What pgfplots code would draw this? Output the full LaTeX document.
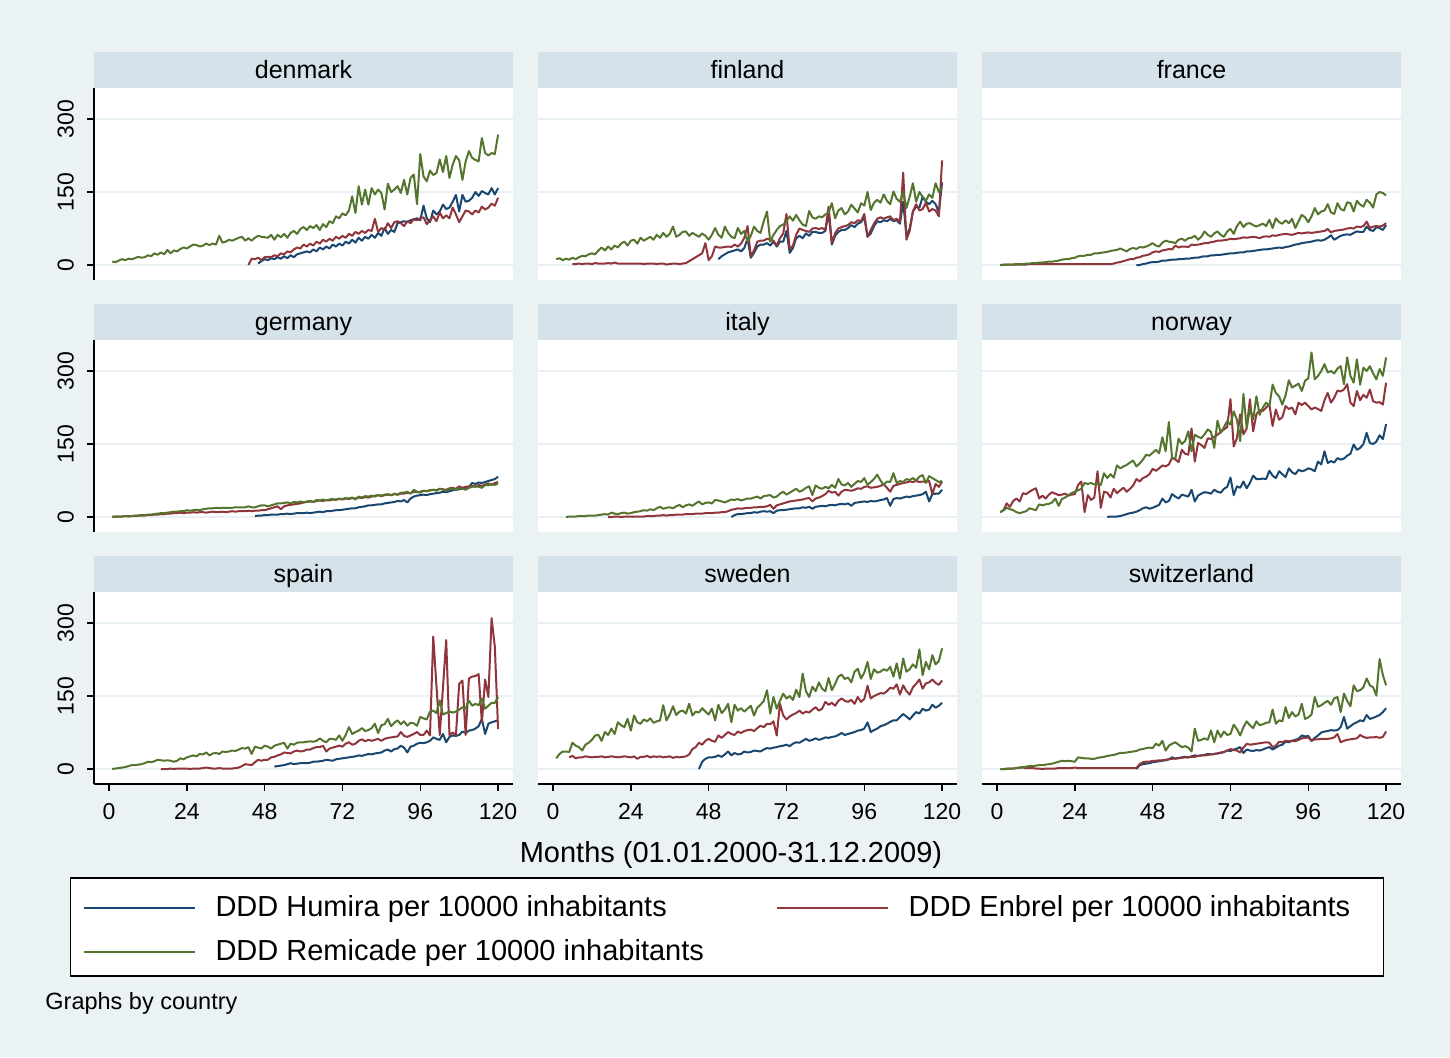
\documentclass[border=0pt]{standalone}
\usepackage{fontspec}
\setmainfont{Liberation Sans}
\usepackage{pgfplots}
\pgfplotsset{compat=1.18}
\definecolor{bgcol}{RGB}{234,242,243}
\definecolor{stripcol}{RGB}{214,226,233}
\definecolor{gridcol}{RGB}{232,240,243}
\definecolor{hum}{RGB}{26,71,111}
\definecolor{enb}{RGB}{144,53,59}
\definecolor{rem}{RGB}{85,117,47}
\newcommand{\ser}[3]{\addplot[#1] table[row sep=\\, header=false, x expr=\coordindex+#2, y index=0]{#3\\};}
\pgfplotsset{
 every axis title shift=0pt,
 panel/.style={
  scale only axis, width=209.5pt, height=96pt,
  xmin=-4.63, xmax=124.6, ymin=-30.8, ymax=363.7,
  axis background/.style={fill=white},
  axis x line*=bottom, axis y line*=left,
  axis line style={-, black, line width=0.75pt},
  ytick={0,150,300}, xtick={0,24,...,120},
  ymajorgrids, major grid style={gridcol, line width=1pt},
  tick align=outside, major tick length=3.5pt,
  tick style={black, line width=0.75pt},
  /pgf/number format/assume math mode=true,
  tick label style={font=\fontsize{11.5}{13}\selectfont},
  yticklabel style={rotate=90, anchor=south, yshift=3pt},
  xticklabel style={yshift=-2.5pt},
  title style={at={(0.5,1)}, anchor=south, yshift=0pt, fill=stripcol, minimum width=209.5pt, minimum height=18pt, inner sep=0pt, text height=9.2pt, text depth=0pt, font=\fontsize{12.5}{14}\selectfont},
  every axis plot/.append style={line width=1pt, line join=round},
 },
 noy/.style={y axis line style={draw=none}, ytick style={draw=none}, yticklabels={}},
 nox/.style={x axis line style={draw=none}, xtick style={draw=none}, xticklabels={}},
}
\begin{document}
\begin{tikzpicture}
\useasboundingbox[fill=bgcol] (0,0) rectangle (725pt,-528.5pt);
% ---------------- denmark
\begin{axis}[panel, nox, at={(47pt,-44pt)}, anchor=north west, title={denmark}]
\ser{hum}{46}{3\\8\\12\\10\\14\\12\\16\\13\\18\\14\\20\\16\\22\\24\\26\\28\\26\\32\\28\\36\\32\\38\\34\\42\\38\\44\\40\\48\\44\\52\\46\\56\\50\\58\\54\\62\\56\\66\\60\\76\\64\\72\\68\\86\\88\\90\\88\\92\\94\\96\\92\\122\\96\\88\\112\\104\\110\\124\\115\\118\\130\\144\\110\\144\\130\\132\\138\\150\\142\\152\\148\\145\\158\\145\\158}
\ser{enb}{43}{0\\13\\12\\15\\10\\16\\17\\16\\20\\18\\24\\22\\28\\26\\32\\36\\34\\42\\38\\44\\40\\48\\44\\52\\48\\54\\50\\58\\54\\60\\56\\64\\60\\68\\64\\70\\66\\72\\70\\95\\68\\76\\72\\86\\76\\88\\90\\86\\80\\90\\86\\94\\92\\96\\98\\84\\92\\100\\90\\108\\96\\102\\96\\118\\104\\88\\100\\112\\110\\104\\112\\108\\120\\114\\118\\126\\122\\138}
\ser{rem}{1}{7\\6\\9\\12\\10\\13\\12\\14\\17\\15\\16\\20\\18\\24\\21\\26\\22\\31\\24\\30\\28\\33\\36\\34\\38\\42\\41\\38\\40\\44\\41\\44\\42\\60\\46\\48\\52\\50\\53\\56\\58\\50\\55\\50\\56\\60\\58\\57\\56\\62\\52\\62\\57\\64\\56\\66\\70\\64\\74\\78\\72\\80\\76\\82\\72\\84\\78\\90\\86\\100\\96\\106\\102\\112\\141\\107\\162\\124\\155\\124\\158\\145\\155\\148\\114\\167\\150\\155\\162\\148\\175\\145\\179\\186\\125\\228\\182\\172\\194\\185\\189\\217\\191\\224\\179\\206\\224\\215\\175\\213\\234\\220\\216\\213\\261\\230\\225\\230\\228\\268}
\end{axis}
% ---------------- finland
\begin{axis}[panel, nox, noy, at={(269pt,-44pt)}, anchor=north west, title={finland}]
\ser{hum}{51}{12\\18\\22\\26\\28\\30\\32\\28\\35\\55\\15\\25\\38\\42\\42\\45\\40\\48\\38\\48\\48\\70\\25\\35\\55\\60\\55\\65\\60\\68\\68\\66\\66\\70\\108\\42\\60\\68\\72\\72\\76\\82\\78\\85\\88\\98\\58\\65\\80\\90\\88\\92\\90\\95\\90\\92\\85\\130\\60\\75\\110\\120\\118\\140\\130\\125\\132\\125\\108\\170}
\ser{enb}{6}{2\\2\\3\\2\\3\\3\\2\\4\\3\\3\\3\\4\\3\\5\\3\\3\\3\\3\\3\\3\\3\\3\\2\\3\\3\\3\\2\\3\\3\\1\\2\\3\\3\\2\\3\\4\\8\\12\\16\\20\\24\\45\\10\\18\\38\\36\\36\\37\\38\\37\\42\\38\\44\\56\\80\\18\\30\\48\\50\\50\\54\\52\\50\\40\\55\\65\\105\\32\\40\\62\\75\\72\\70\\68\\75\\76\\74\\76\\72\\120\\45\\65\\75\\78\\80\\82\\88\\86\\92\\90\\105\\58\\72\\85\\95\\98\\95\\98\\100\\92\\95\\88\\190\\52\\70\\110\\125\\112\\115\\128\\110\\115\\112\\100\\215}
\ser{rem}{1}{12\\14\\10\\13\\11\\15\\12\\16\\19\\18\\22\\24\\22\\30\\36\\30\\38\\32\\40\\36\\44\\48\\40\\50\\52\\44\\56\\50\\54\\58\\52\\62\\56\\66\\58\\64\\79\\58\\62\\68\\69\\60\\66\\62\\58\\65\\60\\52\\62\\76\\62\\56\\79\\66\\58\\55\\76\\64\\70\\48\\60\\79\\70\\66\\90\\110\\48\\62\\72\\80\\83\\90\\100\\91\\103\\92\\83\\80\\111\\98\\95\\100\\98\\104\\108\\127\\96\\112\\117\\104\\110\\124\\116\\108\\127\\122\\150\\113\\128\\134\\128\\145\\132\\125\\151\\136\\130\\151\\117\\140\\168\\130\\150\\140\\132\\145\\138\\168\\150\\158}
\end{axis}
% ---------------- france
\begin{axis}[panel, nox, noy, at={(491pt,-44pt)}, anchor=north west, title={france}]
\ser{hum}{43}{0\\0\\2\\3\\5\\6\\6\\7\\9\\9\\10\\11\\11\\12\\12\\13\\13\\14\\15\\15\\17\\18\\18\\20\\20\\21\\21\\22\\23\\24\\24\\25\\26\\26\\28\\28\\29\\30\\31\\32\\32\\33\\34\\35\\36\\35\\37\\38\\40\\42\\43\\45\\46\\47\\48\\50\\51\\50\\52\\56\\61\\52\\56\\60\\62\\63\\62\\66\\69\\68\\68\\79\\72\\70\\78\\76\\72\\82}
\ser{enb}{1}{0\\1\\1\\1\\1\\1\\1\\1\\1\\2\\2\\2\\2\\2\\2\\2\\2\\2\\2\\2\\2\\2\\2\\2\\2\\2\\2\\2\\2\\2\\2\\2\\2\\2\\2\\3\\5\\6\\8\\10\\12\\12\\15\\16\\19\\20\\22\\26\\28\\27\\30\\31\\33\\32\\40\\36\\38\\38\\37\\42\\41\\42\\43\\45\\45\\47\\48\\50\\50\\51\\52\\54\\53\\54\\55\\57\\56\\57\\58\\57\\55\\58\\59\\58\\61\\60\\62\\63\\64\\63\\62\\64\\66\\65\\66\\67\\66\\67\\68\\69\\70\\74\\67\\70\\71\\72\\73\\75\\76\\75\\79\\78\\80\\89\\76\\79\\80\\79\\81\\86}
\ser{rem}{1}{0\\0\\1\\1\\1\\2\\2\\2\\3\\3\\4\\4\\5\\5\\6\\7\\7\\8\\9\\11\\12\\12\\14\\15\\18\\19\\19\\21\\21\\24\\24\\25\\26\\27\\29\\30\\31\\34\\31\\28\\33\\35\\33\\37\\36\\38\\41\\45\\40\\38\\46\\50\\48\\47\\45\\52\\54\\50\\55\\56\\60\\52\\58\\69\\62\\58\\65\\69\\62\\58\\69\\74\\64\\80\\89\\78\\85\\86\\82\\79\\82\\85\\80\\93\\76\\96\\88\\85\\92\\86\\95\\76\\90\\103\\98\\88\\100\\117\\104\\110\\112\\125\\108\\105\\127\\115\\112\\129\\127\\110\\132\\124\\120\\134\\128\\118\\145\\150\\148\\143}
\end{axis}
% ---------------- germany
\begin{axis}[panel, nox, at={(47pt,-170pt)}, anchor=north west, title={germany}]
\ser{hum}{45}{2\\3\\3\\4\\4\\5\\5\\5\\6\\6\\7\\6\\7\\8\\8\\8\\9\\8\\9\\10\\11\\10\\12\\12\\13\\14\\14\\15\\16\\17\\18\\18\\20\\21\\22\\24\\24\\25\\26\\26\\28\\29\\30\\31\\33\\32\\35\\30\\38\\42\\44\\45\\46\\45\\47\\48\\49\\50\\52\\51\\53\\55\\56\\57\\58\\60\\62\\70\\68\\71\\70\\72\\74\\76\\78\\83}
\ser{enb}{1}{0\\1\\1\\1\\2\\1\\2\\2\\3\\3\\3\\4\\4\\5\\5\\6\\6\\7\\7\\8\\8\\9\\8\\9\\9\\10\\9\\10\\10\\9\\10\\11\\10\\10\\11\\10\\11\\12\\11\\12\\12\\12\\13\\12\\13\\13\\14\\14\\16\\18\\20\\22\\16\\22\\24\\25\\26\\27\\28\\30\\31\\32\\31\\33\\34\\33\\35\\34\\36\\36\\37\\36\\38\\37\\39\\38\\40\\39\\41\\40\\42\\44\\45\\43\\45\\46\\45\\47\\46\\48\\48\\50\\49\\52\\51\\52\\54\\53\\55\\56\\55\\58\\57\\56\\59\\60\\58\\63\\60\\62\\63\\64\\62\\66\\64\\67\\69\\66\\70\\72}
\ser{rem}{1}{1\\1\\1\\1\\2\\2\\2\\3\\3\\4\\4\\5\\5\\6\\7\\8\\8\\9\\10\\11\\11\\12\\12\\14\\13\\14\\15\\14\\16\\17\\18\\18\\19\\18\\19\\19\\19\\19\\20\\20\\20\\20\\22\\20\\20\\22\\24\\24\\22\\24\\26\\28\\28\\29\\30\\28\\31\\30\\32\\30\\32\\33\\31\\35\\34\\36\\34\\36\\37\\35\\38\\37\\39\\38\\40\\36\\42\\40\\43\\42\\44\\42\\45\\44\\46\\47\\45\\48\\46\\50\\50\\52\\48\\56\\52\\50\\54\\53\\55\\56\\54\\58\\56\\54\\57\\59\\55\\60\\58\\56\\60\\62\\64\\62\\60\\66\\65\\68\\66\\69}
\end{axis}
% ---------------- italy
\begin{axis}[panel, nox, noy, at={(269pt,-170pt)}, anchor=north west, title={italy}]
\ser{hum}{55}{0\\4\\6\\6\\7\\8\\8\\10\\9\\11\\12\\11\\12\\8\\13\\14\\14\\15\\16\\17\\18\\18\\20\\19\\21\\17\\21\\22\\23\\22\\24\\25\\24\\26\\27\\26\\28\\23\\29\\30\\31\\32\\31\\33\\32\\33\\35\\36\\39\\23\\37\\39\\38\\40\\42\\41\\43\\44\\45\\47\\52\\32\\47\\48\\48\\56}
\ser{enb}{17}{0\\0\\1\\1\\0\\1\\1\\1\\1\\1\\1\\1\\2\\2\\2\\3\\3\\4\\3\\4\\4\\5\\5\\5\\6\\6\\6\\7\\7\\7\\8\\8\\8\\9\\9\\10\\10\\12\\15\\16\\18\\17\\18\\19\\19\\20\\20\\21\\21\\22\\25\\17\\24\\26\\28\\30\\32\\33\\34\\35\\36\\38\\39\\32\\38\\40\\43\\47\\54\\50\\52\\44\\52\\56\\55\\54\\56\\59\\58\\62\\63\\60\\61\\62\\64\\67\\60\\52\\64\\66\\68\\70\\71\\73\\72\\74\\72\\73\\72\\74\\47\\68\\62\\73}
\ser{rem}{4}{0\\1\\1\\1\\2\\2\\2\\3\\3\\3\\4\\5\\6\\5\\9\\7\\6\\8\\9\\7\\8\\10\\11\\12\\14\\13\\16\\14\\18\\21\\17\\19\\20\\18\\22\\25\\20\\24\\26\\23\\28\\32\\26\\29\\30\\28\\35\\34\\32\\30\\33\\36\\35\\37\\34\\36\\38\\38\\40\\42\\38\\43\\44\\45\\40\\42\\48\\52\\46\\50\\54\\58\\52\\55\\60\\63\\45\\65\\60\\58\\62\\59\\66\\60\\78\\67\\65\\70\\62\\68\\74\\72\\80\\66\\72\\78\\87\\75\\66\\73\\72\\90\\70\\74\\72\\78\\76\\80\\75\\83\\86\\70\\84\\80\\76\\72\\74}
\end{axis}
% ---------------- norway
\begin{axis}[panel, nox, noy, at={(491pt,-170pt)}, anchor=north west, title={norway}]
\ser{hum}{34}{0\\1\\1\\1\\2\\4\\6\\8\\9\\11\\14\\18\\20\\17\\19\\22\\25\\38\\30\\33\\47\\42\\38\\46\\44\\42\\56\\32\\44\\48\\51\\50\\48\\56\\52\\50\\58\\62\\81\\45\\63\\60\\73\\59\\70\\85\\78\\78\\79\\78\\95\\85\\80\\94\\88\\82\\100\\92\\88\\97\\94\\96\\100\\98\\94\\114\\108\\135\\111\\115\\112\\121\\118\\120\\126\\130\\149\\138\\142\\150\\173\\152\\150\\155\\168\\160\\191}
\ser{enb}{1}{10\\14\\28\\21\\33\\38\\32\\49\\47\\52\\56\\59\\38\\44\\38\\46\\51\\48\\45\\46\\48\\44\\46\\47\\66\\73\\10\\45\\35\\40\\94\\19\\52\\50\\40\\58\\49\\55\\60\\52\\58\\65\\78\\73\\80\\83\\88\\99\\95\\100\\106\\104\\108\\122\\118\\113\\138\\130\\128\\182\\114\\152\\148\\142\\162\\160\\165\\169\\175\\180\\185\\242\\145\\162\\211\\170\\182\\242\\176\\211\\220\\218\\225\\231\\187\\221\\200\\205\\228\\222\\225\\211\\235\\230\\235\\228\\221\\225\\222\\218\\240\\255\\235\\245\\260\\258\\262\\273\\235\\228\\259\\240\\251\\245\\262\\238\\235\\236\\231\\276}
\ser{rem}{1}{10\\14\\19\\16\\14\\10\\8\\10\\12\\18\\16\\14\\26\\24\\26\\27\\30\\38\\23\\37\\40\\45\\49\\52\\55\\58\\70\\68\\70\\67\\68\\66\\90\\80\\88\\81\\106\\100\\104\\107\\112\\116\\104\\110\\118\\128\\126\\132\\138\\131\\164\\135\\195\\121\\120\\161\\150\\156\\176\\135\\169\\165\\162\\170\\180\\175\\142\\198\\173\\185\\197\\190\\217\\200\\156\\253\\183\\224\\200\\248\\210\\225\\235\\228\\272\\255\\248\\231\\250\\281\\266\\270\\274\\259\\280\\285\\338\\283\\290\\300\\314\\297\\300\\295\\305\\310\\273\\328\\290\\276\\324\\272\\307\\300\\310\\295\\283\\304\\290\\328}
\end{axis}
% ---------------- spain
\begin{axis}[panel, at={(47pt,-296pt)}, anchor=north west, title={spain},
  legend columns=2, legend cell align=left,
  legend image code/.code={\draw[#1] (0pt,-1.5pt) -- (55.5pt,-1.5pt);},
  legend style={at={(-0.0573,-0.4844)}, anchor=north west, draw=black, line width=0.75pt, fill=white,
    inner xsep=6pt, inner ysep=5.5pt, row sep=6pt,
    font=\fontsize{14.5}{17}\selectfont,
    nodes={inner sep=0pt, text height=14pt, text depth=2pt},
    /tikz/column 1/.style={column sep=9.9pt},
    /tikz/column 2/.style={column sep=35.9pt},
    /tikz/column 3/.style={column sep=9.9pt}}]
\ser{hum}{51}{5\\6\\7\\8\\10\\12\\10\\11\\12\\12\\12\\13\\15\\15\\16\\17\\19\\18\\17\\20\\21\\22\\23\\24\\25\\26\\28\\27\\29\\31\\30\\32\\33\\34\\38\\40\\36\\41\\42\\48\\44\\34\\46\\48\\52\\54\\53\\55\\58\\65\\62\\60\\72\\55\\66\\69\\68\\70\\77\\74\\79\\80\\83\\88\\103\\72\\93\\96\\98\\100}
\addlegendentry{DDD Humira per 10000 inhabitants}
\ser{enb}{16}{0\\0\\0\\1\\0\\1\\1\\1\\1\\0\\1\\1\\1\\2\\3\\2\\1\\1\\2\\1\\1\\1\\1\\2\\3\\6\\10\\9\\8\\14\\19\\17\\19\\19\\24\\25\\28\\30\\34\\33\\32\\36\\38\\36\\37\\40\\40\\43\\45\\45\\48\\36\\42\\44\\46\\48\\46\\52\\55\\50\\52\\58\\61\\57\\60\\58\\60\\62\\58\\62\\64\\65\\66\\67\\76\\68\\66\\69\\72\\76\\70\\70\\79\\69\\272\\170\\70\\168\\265\\70\\75\\70\\175\\182\\70\\186\\190\\191\\195\\96\\184\\148\\310\\251\\82}
\addlegendentry{DDD Enbrel per 10000 inhabitants\rule{10.5pt}{0pt}}
\ser{rem}{1}{0\\1\\2\\3\\4\\6\\8\\8\\9\\10\\12\\15\\14\\16\\19\\18\\17\\18\\17\\15\\17\\22\\20\\24\\26\\28\\26\\31\\30\\34\\28\\32\\33\\31\\36\\35\\36\\38\\37\\40\\43\\42\\45\\31\\46\\44\\42\\48\\46\\42\\48\\50\\52\\54\\42\\52\\50\\54\\55\\55\\56\\57\\56\\58\\63\\58\\55\\62\\62\\60\\69\\58\\70\\86\\72\\76\\79\\84\\78\\80\\84\\93\\74\\90\\92\\103\\88\\95\\100\\92\\98\\89\\95\\94\\89\\107\\104\\102\\118\\120\\115\\141\\112\\115\\118\\116\\118\\122\\127\\124\\141\\130\\134\\131\\145\\124\\130\\136\\136\\148}
\addlegendentry{DDD Remicade per 10000 inhabitants}
\end{axis}
% ---------------- sweden
\begin{axis}[panel, noy, at={(269pt,-296pt)}, anchor=north west, title={sweden},
  xlabel={Months (01.01.2000-31.12.2009)},
  xlabel style={at={(0.5,-0.354)}, anchor=center, xshift=-8.25pt, yshift=-1.5pt, font=\fontsize{14.5}{17}\selectfont}]
\ser{hum}{45}{0\\15\\21\\24\\24\\25\\28\\25\\30\\36\\28\\33\\30\\31\\36\\34\\35\\38\\37\\36\\40\\43\\42\\44\\45\\47\\48\\50\\47\\52\\55\\54\\58\\62\\58\\60\\63\\60\\62\\65\\64\\66\\67\\70\\74\\70\\72\\74\\76\\79\\80\\83\\96\\76\\80\\83\\88\\90\\93\\97\\100\\100\\107\\113\\108\\102\\110\\117\\114\\124\\120\\122\\132\\126\\130\\136}
\ser{enb}{5}{24\\27\\22\\24\\24\\26\\25\\24\\25\\25\\26\\24\\25\\26\\25\\24\\25\\26\\25\\24\\26\\21\\25\\25\\27\\24\\26\\25\\26\\24\\25\\26\\23\\25\\24\\25\\26\\30\\41\\45\\54\\50\\58\\62\\58\\56\\69\\64\\70\\76\\72\\70\\77\\74\\78\\80\\81\\78\\84\\89\\86\\93\\92\\98\\69\\134\\110\\102\\108\\112\\115\\120\\114\\118\\116\\122\\127\\120\\124\\138\\132\\136\\130\\140\\145\\140\\138\\142\\134\\148\\138\\144\\171\\145\\150\\153\\156\\155\\160\\167\\165\\174\\153\\172\\160\\153\\168\\175\\184\\165\\176\\178\\184\\177\\173\\182}
\ser{rem}{1}{22\\31\\36\\36\\35\\54\\48\\45\\38\\50\\54\\60\\69\\70\\58\\76\\70\\83\\72\\96\\90\\86\\103\\79\\110\\96\\93\\102\\98\\104\\95\\98\\100\\131\\100\\112\\129\\111\\118\\120\\114\\134\\110\\118\\116\\125\\118\\112\\124\\100\\132\\115\\122\\134\\96\\132\\120\\125\\118\\124\\130\\110\\126\\132\\140\\162\\114\\148\\124\\140\\155\\145\\150\\142\\163\\148\\196\\160\\148\\169\\160\\178\\165\\160\\187\\162\\175\\190\\194\\185\\188\\178\\200\\206\\186\\198\\220\\185\\205\\198\\200\\205\\202\\210\\190\\217\\186\\227\\200\\205\\215\\208\\246\\193\\220\\205\\234\\215\\222\\248}
\end{axis}
% ---------------- switzerland
\begin{axis}[panel, noy, at={(491pt,-296pt)}, anchor=north west, title={switzerland}]
\ser{hum}{43}{0\\8\\10\\11\\12\\14\\15\\16\\17\\18\\20\\24\\21\\23\\24\\25\\24\\26\\28\\27\\28\\29\\31\\30\\31\\32\\33\\35\\38\\37\\40\\42\\45\\33\\40\\38\\37\\39\\38\\40\\43\\45\\40\\44\\48\\50\\56\\55\\58\\60\\62\\69\\67\\68\\58\\64\\69\\75\\77\\78\\80\\79\\80\\86\\107\\83\\88\\93\\96\\100\\98\\111\\103\\105\\108\\111\\117\\125}
\ser{enb}{1}{0\\0\\1\\1\\1\\2\\3\\3\\2\\2\\2\\1\\1\\0\\1\\1\\1\\1\\2\\2\\2\\2\\2\\3\\2\\2\\2\\2\\2\\2\\2\\2\\2\\2\\2\\2\\2\\2\\2\\2\\2\\2\\2\\10\\14\\15\\15\\17\\17\\18\\18\\19\\20\\21\\22\\22\\23\\24\\24\\25\\25\\27\\28\\28\\29\\30\\31\\32\\34\\35\\38\\41\\39\\38\\34\\44\\52\\50\\51\\52\\53\\54\\55\\54\\45\\48\\56\\55\\58\\57\\58\\57\\60\\63\\64\\65\\58\\61\\61\\62\\62\\62\\63\\65\\72\\55\\58\\60\\61\\62\\63\\70\\66\\64\\65\\65\\66\\64\\66\\77}
\ser{rem}{1}{0\\0\\0\\1\\1\\2\\3\\4\\5\\6\\6\\7\\8\\8\\9\\10\\11\\13\\15\\17\\16\\17\\16\\15\\24\\23\\22\\22\\21\\21\\23\\24\\25\\27\\28\\29\\31\\33\\33\\34\\35\\36\\37\\40\\41\\43\\44\\43\\52\\48\\58\\38\\48\\52\\55\\50\\45\\47\\44\\36\\83\\58\\60\\63\\60\\79\\55\\79\\66\\77\\70\\72\\91\\82\\69\\86\\98\\90\\84\\98\\90\\92\\95\\96\\122\\93\\100\\98\\127\\105\\117\\108\\112\\134\\103\\106\\112\\148\\128\\131\\136\\140\\132\\145\\148\\117\\155\\140\\129\\172\\160\\162\\168\\186\\172\\168\\151\\226\\193\\172}
\end{axis}
\node[anchor=west, font=\fontsize{11.75}{14}\selectfont, inner sep=0pt] at (22.5pt,-501.5pt) {Graphs by country};
\end{tikzpicture}
\end{document}
